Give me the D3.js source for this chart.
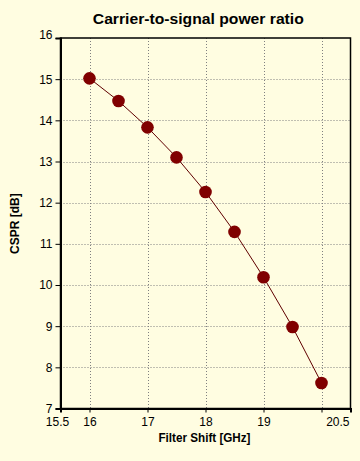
<!DOCTYPE html>
<html>
<head>
<meta charset="utf-8">
<script src="https://cdn.jsdelivr.net/npm/d3@7"></script>
<style>
  html, body { margin: 0; padding: 0; background: #FFFDE1; }
  svg { display: block; }
  text { font-family: Arial, "Liberation Sans", sans-serif; fill: #000; }
</style>
</head>
<body>
<svg id="chart" width="360" height="461"></svg>
<script>
// Data
const filterShift = [16, 16.5, 17, 17.5, 18, 18.5, 19, 19.5, 20];
const cspr = [15.02, 14.47, 13.83, 13.10, 12.26, 11.29, 10.19, 8.98, 7.62];
const xGridValues = [16, 17, 18, 19, 20];
const xTickLabels = [15.5, 16, 17, 18, 19, 20.5];
const yTickValues = [7, 8, 9, 10, 11, 12, 13, 14, 15, 16];
const title = "Carrier-to-signal power ratio";
const xTitle = "Filter Shift [GHz]";
const yTitle = "CSPR [dB]";

const svg = d3.select("#chart");
const W = 360, H = 461;
const m = { left: 60.5, top: 38, right: 350.5, bottom: 408.5 };

svg.append("rect").attr("width", W).attr("height", H).attr("fill", "#FFFDE1");

const x = d3.scaleLinear().domain([15.5, 20.5]).range([m.left, m.right]);
const y = d3.scaleLinear().domain([7, 16]).range([m.bottom, m.top]);

// Grid
const grid = svg.append("g");
grid.selectAll("line.vx").data(xGridValues).join("line")
  .attr("x1", d => Math.round(x(d)) + 0.5).attr("x2", d => Math.round(x(d)) + 0.5)
  .attr("y1", m.top).attr("y2", m.bottom)
  .attr("stroke", "#808080").attr("stroke-width", 1).attr("stroke-dasharray", "1,2");
grid.selectAll("line.hy").data(yTickValues.filter(v => v > 7 && v < 16)).join("line")
  .attr("y1", d => Math.round(y(d)) + 0.5).attr("y2", d => Math.round(y(d)) + 0.5)
  .attr("x1", m.left).attr("x2", m.right)
  .attr("stroke", "#808080").attr("stroke-width", 1).attr("stroke-dasharray", "1,2");

// Frame
svg.append("rect")
  .attr("x", m.left).attr("y", m.top)
  .attr("width", m.right - m.left).attr("height", m.bottom - m.top)
  .attr("fill", "none").attr("stroke", "#000").attr("stroke-width", 1.5);

// Y axis
const yAxis = svg.append("g").attr("transform", `translate(${m.left},0)`)
  .call(d3.axisLeft(y).tickValues(yTickValues).tickSize(5).tickPadding(3).tickFormat(d3.format("d")));
yAxis.select(".domain").attr("stroke", "#000").attr("stroke-width", 2);
yAxis.selectAll("text").attr("font-size", 12).attr("font-family", "Arial, 'Liberation Sans', sans-serif");
yAxis.selectAll(".tick").filter(d => d === 16).select("text").attr("dy", "0.05em");

// X axis tick marks
const xTicks = svg.append("g").attr("transform", `translate(0,${m.bottom})`)
  .call(d3.axisBottom(x).tickValues(xGridValues).tickSize(4).tickFormat(""));
xTicks.select(".domain").attr("stroke", "#000").attr("stroke-width", 2);

// X axis labels
const xLab = svg.append("g").attr("transform", `translate(0,${m.bottom})`)
  .call(d3.axisBottom(x).tickValues(xTickLabels).tickSize(0).tickPadding(9)
    .tickFormat(d => String(d)));
xLab.select(".domain").remove();
xLab.selectAll("text").attr("font-size", 12).attr("font-family", "Arial, 'Liberation Sans', sans-serif");
xLab.selectAll(".tick").filter(d => d === 15.5).select("text").attr("dx", -3.5);
xLab.selectAll(".tick").filter(d => d === 20.5).select("text").attr("text-anchor", "end").attr("dx", -1.5);

// Line
const line = d3.line().x((d, i) => x(filterShift[i])).y(d => y(d));
svg.append("path").datum(cspr)
  .attr("d", line).attr("fill", "none").attr("stroke", "#600000").attr("stroke-width", 1);

// Markers
svg.selectAll("circle.pt").data(cspr).join("circle")
  .attr("cx", (d, i) => x(filterShift[i])).attr("cy", d => y(d))
  .attr("r", 6.3).attr("fill", "#800000");

// Titles
svg.append("text").attr("x", 198.3).attr("y", 23.7)
  .attr("text-anchor", "middle").attr("font-size", 15.5).attr("font-weight", "bold")
  .attr("textLength", 211).attr("lengthAdjust", "spacingAndGlyphs")
  .text(title);
svg.append("text").attr("x", 204.5).attr("y", 442)
  .attr("text-anchor", "middle").attr("font-size", 12.5).attr("font-weight", "bold")
  .attr("textLength", 92).attr("lengthAdjust", "spacingAndGlyphs")
  .text(xTitle);
svg.append("text")
  .attr("transform", "translate(18.5,223.7) rotate(-90)")
  .attr("text-anchor", "middle").attr("font-size", 12).attr("font-weight", "bold")
  .text(yTitle);
</script>
</body>
</html>
